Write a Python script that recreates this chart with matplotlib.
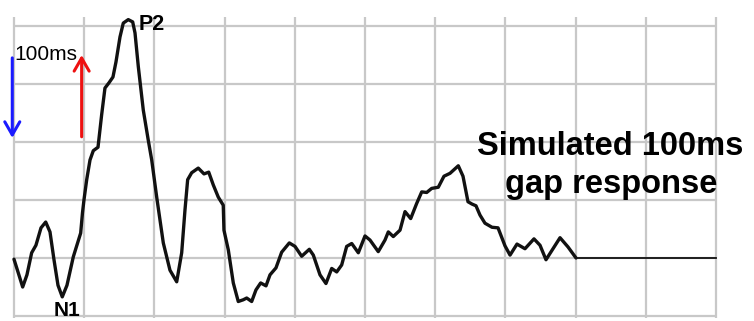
import numpy as np
import matplotlib
matplotlib.use("Agg")
import matplotlib.pyplot as plt

# Simulated gap response: time in ms, amplitude in grid divisions
t_ms = [0, 5.7, 12.4, 18.5, 25.2, 31.3, 38.5, 45.2, 51.3, 57.0, 62.7, 68.8,
        75.5, 84.5, 95.0, 97.6, 99.7, 103.6, 108.3, 113.0, 119.7, 124.9,
        129.6, 135.3, 141.0, 145.3, 151.0, 155.7, 162.8, 169.1, 172.4, 177.1,
        184.2, 191.3, 196.2, 203.3, 212.7, 222.2, 231.8, 238.9, 243.6, 247.4,
        253.1, 262.5, 270.7, 277.4, 283.9, 291.0, 298.1, 299.1, 305.3, 312.4,
        319.5, 326.6, 331.5, 338.6, 344.7, 351.4, 359.0, 364.7, 373.2, 381.3,
        392.2, 400.3, 409.8, 420.7, 426.4, 435.9, 444.4, 452.6, 459.7, 466.8,
        473.9, 481.1, 490.5, 500.0, 507.1, 518.9, 528.5, 533.2, 540.3, 549.9,
        557.0, 565.1, 573.6, 580.8, 587.9, 595.0, 604.4, 612.5, 621.1, 632.9,
        639.6, 646.7, 652.4, 658.1, 663.8, 670.9, 680.9, 689.5, 699.4, 706.6,
        716.5, 727.9, 740.7, 749.3, 757.8, 767.8, 777.8, 789.2, 800.6]
amp = [0.98, 0.76, 0.50, 0.71, 1.09, 1.22, 1.52, 1.62, 1.45, 0.97, 0.53, 0.33,
       0.53, 1.02, 1.43, 1.78, 2.00, 2.35, 2.69, 2.85, 2.91, 3.47,
       3.93, 4.02, 4.12, 4.38, 4.81, 5.05, 5.11, 5.07, 4.88, 4.30,
       3.55, 3.03, 2.69, 2.05, 1.26, 0.79, 0.59, 1.09, 1.83, 2.35,
       2.47, 2.55, 2.45, 2.48, 2.26, 2.05, 1.91, 1.48, 1.14, 0.57,
       0.25, 0.28, 0.31, 0.25, 0.45, 0.57, 0.52, 0.71, 0.83, 1.10,
       1.26, 1.20, 1.03, 1.15, 1.05, 0.71, 0.56, 0.82, 0.76, 0.88,
       1.20, 1.25, 1.09, 1.38, 1.31, 1.11, 1.31, 1.45, 1.37, 1.48,
       1.80, 1.68, 1.94, 2.14, 2.13, 2.20, 2.22, 2.41, 2.46, 2.59,
       2.41, 1.97, 1.93, 1.90, 1.74, 1.60, 1.53, 1.52, 1.21, 1.05,
       1.24, 1.16, 1.33, 1.22, 0.97, 1.16, 1.35, 1.19, 1.00]
flat_t = [800.6, 1000]
flat_amp = [1.0, 1.0]

grid_t = np.arange(0, 1001, 100)
grid_v = np.arange(0, 6, 1)

fig = plt.figure(figsize=(7.54, 3.21), dpi=100)
ax = fig.add_axes([0, 0, 1, 1])
ax.set_xlim(-19.9, 1054.1)
ax.set_ylim(-0.086, 5.448)
ax.axis("off")

gc = "#c8c8c8"
for x in grid_t:
    ax.plot([x, x], [-0.04, 5.155], color=gc, lw=1.6, zorder=1, solid_capstyle="butt")
for y in grid_v:
    ax.plot([0, 1000], [y, y], color=gc, lw=1.6, zorder=1, solid_capstyle="butt")

ax.plot(t_ms, amp, color="#111111", lw=2.4, zorder=3,
        solid_joinstyle="round", solid_capstyle="round")
ax.plot(flat_t, flat_amp, color="#111111", lw=1.3, zorder=3)

# gap markers
ax.annotate("", xy=(-2.4, 3.07), xytext=(-2.4, 4.45),
            arrowprops=dict(arrowstyle="->,head_length=0.47,head_width=0.27",
                            lw=2.2, color="#1a1aff", shrinkA=0, shrinkB=0,
                            mutation_scale=20), zorder=4)
ax.annotate("", xy=(96.4, 4.5), xytext=(96.4, 3.09),
            arrowprops=dict(arrowstyle="->,head_length=0.47,head_width=0.27",
                            lw=2.2, color="#ee1111", shrinkA=0, shrinkB=0,
                            mutation_scale=20), zorder=4)

ax.text(0, 4.5, "100ms", fontsize=15, family="Liberation Sans",
        ha="left", va="center", zorder=5)
ax.text(178, 4.93, "P2", fontsize=15.5, fontweight="bold", family="Liberation Sans",
        ha="left", va="baseline", zorder=5)
ax.text(56, -0.075, "N1", fontsize=15, fontweight="bold", family="Liberation Sans",
        ha="left", va="bottom", zorder=5)
ax.text(849, 2.776, "Simulated 100ms", fontsize=23.5, fontweight="bold",
        family="Liberation Sans", ha="center", va="baseline", zorder=5)
ax.text(851, 2.12, "gap response", fontsize=23.5, fontweight="bold",
        family="Liberation Sans", ha="center", va="baseline", zorder=5)

fig.savefig("out.png", dpi=100)
